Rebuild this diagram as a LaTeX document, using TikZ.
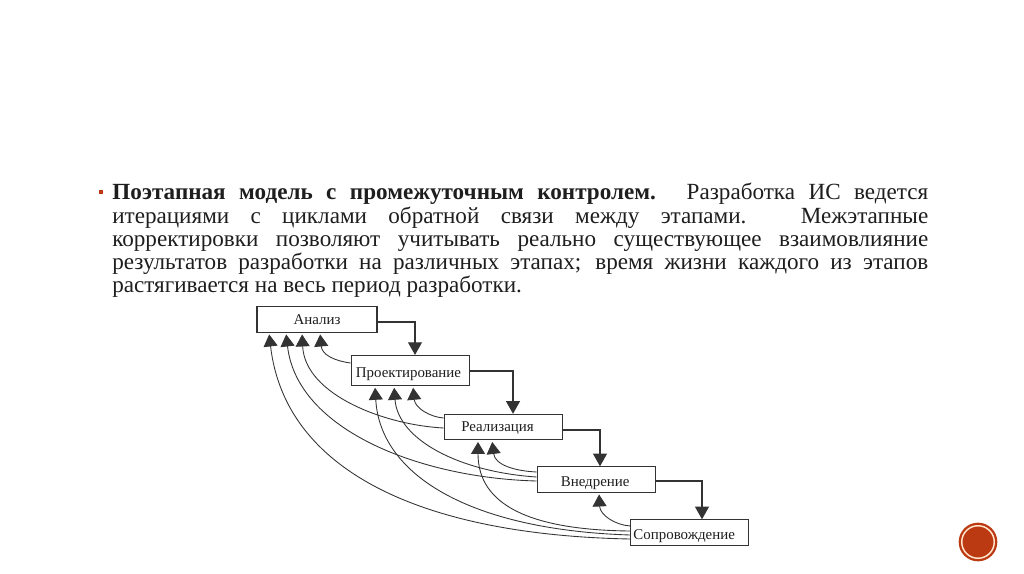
\documentclass[tikz,border=0pt]{standalone}
\usepackage{fontspec}
\setmainfont{Liberation Serif}
\usetikzlibrary{arrows.meta}
\definecolor{inkdark}{HTML}{1E1E1E}
\definecolor{boxline}{HTML}{333333}
\definecolor{accent}{HTML}{BC3A12}
\newcommand{\shiftlabel}[3]{\hspace*{#1}\raisebox{#2}[0pt][0pt]{#3}}
\tikzset{
  x=0.75pt,y=-0.75pt,
  stagebox/.style={draw=boxline,line width=0.85pt,fill=white,minimum height=19pt,inner sep=0pt,text=inkdark,font=\fontsize{11.2pt}{12pt}\selectfont},
  forward/.style={draw=boxline,line width=0.8pt,-{Triangle[length=9.5pt,width=10.5pt]}},
  back/.style={draw=boxline,line width=0.65pt,shorten >=1.3pt,-{Triangle[length=9pt,width=10.5pt]}},
}
\begin{document}
\begin{tikzpicture}
\useasboundingbox (0,0) rectangle (1024,574);
\fill[white] (0,0) rectangle (1024,574);
% text
\node[anchor=north west,inner sep=0pt,text width=612pt,text=inkdark,align=justify] (body) at (112,183)
{\fontsize{17.35pt}{17.45pt}\selectfont
\textbf{Поэтапная модель с промежуточным контролем.} Разработка ИС ведется\linebreak
итерациями с циклами обратной связи между этапами. Межэтапные\linebreak
корректировки позволяют учитывать реально существующее взаимовлияние\linebreak
результатов разработки на различных этапах; время жизни каждого из этапов\linebreak
растягивается на весь период разработки.\par};
\node[fill=accent,minimum size=3.6pt,inner sep=0pt] (bullet) at (101,192) {};
% boxes
\node[stagebox,minimum width=90pt] (a) at (317,319.5) {\shiftlabel{0pt}{-3.4pt}{Анализ}};
\node[stagebox,minimum width=89pt,minimum height=22.5pt] (p) at (410.5,370.5) {\shiftlabel{-3pt}{-4.9pt}{Проектирование}};
\node[stagebox,minimum width=89pt] (r) at (503.5,427) {\shiftlabel{-9pt}{-3pt}{Реализация}};
\node[stagebox,minimum width=89pt] (v) at (596.5,479.5) {\shiftlabel{-2pt}{-4.9pt}{Внедрение}};
\node[stagebox,minimum width=88pt] (s) at (689.5,532.5) {\shiftlabel{-8pt}{-5.6pt}{Сопровождение}};
% forward connectors
\draw[forward] (a.east |- 0,322) -| (p.north -| 415,0);
\draw[forward] (p.east |- 0,371) -| (r.north -| 513,0);
\draw[forward] (r.east |- 0,430) -| (v.north -| 600,0);
\draw[forward] (v.east |- 0,481) -| (s.north -| 702,0);
% feedback to Анализ
\draw[back] (p.west |- 0,363) .. controls (335,361) and (322,355) .. (a.south -| 320,0);
\draw[back] (r.west |- 0,428) .. controls (385,425) and (305,395) .. (a.south -| 302,0);
\draw[back] (v.west |- 0,481) .. controls (420,478) and (297,430) .. (a.south -| 286,0);
\draw[back] (s.west |- 0,539) .. controls (420,535) and (285,470) .. (a.south -| 269,0);
% feedback to Проектирование
\draw[back] (r.west |- 0,418) .. controls (430,417) and (415,408) .. (p.south -| 413,0);
\draw[back] (v.west |- 0,477) .. controls (460,472) and (398,440) .. (p.south -| 394,0);
\draw[back] (s.west |- 0,535) .. controls (470,530) and (380,475) .. (p.south -| 375,0);
% feedback to Реализация
\draw[back] (v.west |- 0,472) .. controls (515,471) and (495,465) .. (r.south -| 492,0);
\draw[back] (s.west |- 0,531) .. controls (530,530) and (478,505) .. (r.south -| 478,0);
% feedback to Внедрение
\draw[back] (s.west |- 0,526) .. controls (615,525) and (600,515) .. (v.south -| 599,0);
% page badge
\fill[accent] (978,542) circle (14.5pt);
\draw[white!80!orange,line width=1.1pt] (978,542) circle (12.2pt);
\end{tikzpicture}
\end{document}
